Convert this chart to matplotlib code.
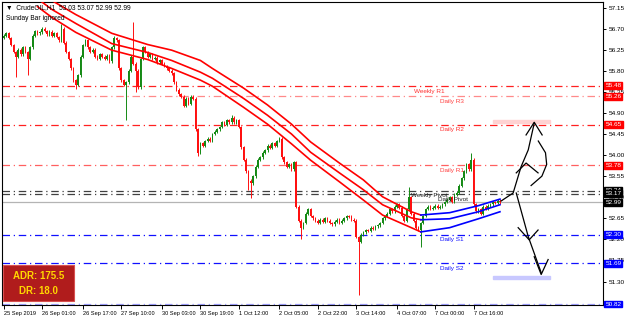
import matplotlib
matplotlib.use("Agg")
import matplotlib.pyplot as plt
from matplotlib.patches import Rectangle
import numpy as np

plt.rcParams['font.family'] = ['Liberation Sans', 'DejaVu Sans']

# === H1 bars (close of every bar) ===
first_open = 56.50
closes = [
    56.55, 56.60, 56.50, 56.35, 56.20, 56.10, 56.25, 56.15, 56.30, 56.20,
    56.05, 56.30, 56.55, 56.65, 56.60,
    56.62, 56.70, 56.65, 56.58, 56.63, 56.55, 56.60, 56.52,
    56.45, 56.70, 56.40, 56.20, 56.05,
    55.85, 55.60, 55.50, 55.70, 56.10,
    56.35, 56.45, 56.30, 56.20, 56.25, 56.10, 56.05, 56.15,
    56.10, 56.05, 56.12, 56.00, 56.30, 56.50, 56.45,
    55.85,
    55.60, 55.50, 55.55,
    55.80, 56.10,
    55.95,
    55.80, 55.45,
    56.05, 56.30, 56.20,
    56.10, 56.15, 56.05, 56.08, 55.98, 56.02, 55.95,
    55.90, 55.85, 55.80, 55.75,
    55.55, 55.40, 55.30, 55.25,
    55.05, 55.20, 55.10, 55.25, 55.20,
    54.55, 54.05,
    54.25, 54.20, 54.30, 54.35, 54.30, 54.45, 54.50,
    54.55, 54.60, 54.70, 54.65, 54.75, 54.70, 54.80, 54.70,
    54.75, 54.60,
    54.17,
    53.90, 53.65, 53.45,
    53.40,
    53.55, 53.75, 53.90, 53.95,
    54.05, 54.10, 54.20, 54.15, 54.25, 54.20, 54.30, 54.35,
    53.95, 53.85,
    53.75, 53.80, 53.70, 53.85,
    52.90, 52.60, 52.45,
    52.55, 52.75, 52.85, 52.70,
    52.65, 52.60, 52.55, 52.62, 52.58, 52.65, 52.60, 52.55, 52.52,
    52.58, 52.62, 52.55, 52.60, 52.65, 52.70, 52.68, 52.62, 52.60,
    52.25, 52.15,
    52.30, 52.35, 52.40, 52.38, 52.45, 52.42, 52.48, 52.50, 52.55,
    52.65, 52.70, 52.75, 52.85, 52.80, 52.90, 52.95, 52.88,
    52.70, 52.60, 52.85, 53.10, 52.75,
    52.60, 52.45, 52.40, 52.55,
    52.70, 52.85, 52.90, 52.85, 52.88, 52.92, 52.87, 52.90,
    52.95, 53.00, 53.05, 53.10, 53.00, 53.15, 53.20,
    53.35, 53.50, 53.65, 53.80, 53.70, 53.90,
    52.95,
    52.80, 52.85, 52.75, 52.90, 52.85, 52.92,
    52.95, 53.00, 52.98, 53.03, 52.99,
]
# long wicks seen on the chart (bar index -> price)
wick_highs = {24: 56.80, 46: 56.55, 54: 56.85, 95: 54.85, 115: 54.38,
              169: 53.32, 195: 54.05, 207: 53.07}
wick_lows = {5: 55.67, 10: 55.70, 30: 55.42, 51: 54.75, 55: 55.34, 81: 53.98,
             102: 53.26, 103: 53.09, 124: 52.20, 148: 51.02, 174: 52.04}

# === channel lines (red while falling, blue while rising) ===
red_idx = [14, 20, 30, 45, 60, 70, 82, 87, 100, 110, 120, 128, 140, 150, 158, 170, 174]
red_up = [57.55, 57.30, 57.00, 56.60, 56.36, 56.24, 56.02, 55.85, 55.43, 55.07,
          54.66, 54.28, 53.83, 53.47, 53.11, 52.79, 52.72]
red_mid = [57.34, 57.11, 56.81, 56.38, 56.19, 56.02, 55.77, 55.64, 55.21, 54.85,
           54.45, 54.06, 53.62, 53.26, 52.94, 52.66, 52.62]
red_low = [57.17, 56.94, 56.62, 56.24, 56.04, 55.85, 55.60, 55.47, 55.02, 54.66,
           54.24, 53.89, 53.43, 53.04, 52.72, 52.45, 52.36]
blue_idx = [174, 186, 198, 207]
blue_up = [52.72, 52.77, 52.92, 53.06]
blue_mid = [52.62, 52.64, 52.79, 52.94]
blue_low = [52.36, 52.45, 52.64, 52.79]

# === pivot levels ===
level_names = ["Weekly R1", "Daily R3", "Daily R2", "Daily R1", "Weekly Pivot",
               "Daily Pivot", "Daily S1", "Daily S2", ""]
level_values = [55.48, 55.26, 54.65, 53.78, 53.24, 53.17, 52.30, 51.69, 50.82]
level_colors = ["#ff2020", "#ff8a8a", "#ff2020", "#ff6060", "#404040",
                "#404040", "#1010ff", "#1010ff", "#a0a0ff"]
text_colors = ["#ff3030", "#ff4040", "#ff3030", "#ff4040", "#202020",
               "#202020", "#1010ff", "#1010ff", "#1010ff"]
level_boxes = ["#ff0000", "#ff0000", "#ff0000", "#ff0000", "#000000",
               "#000000", "#0000ff", "#0000ff", "#0000ff"]
label_pos = [171, 182, 182, 182, 170, 181, 182, 182, 0]
last_price = 52.99

ytick_vals = [57.15, 56.70, 56.25, 55.80, 55.35, 54.90, 54.45, 54.00, 53.55,
              53.10, 52.65, 52.20, 51.75, 51.30]
xtick_pos = [0, 16, 33, 49, 66, 82, 98, 115, 131, 147, 164, 180, 196]
xtick_labels = ["25 Sep 2019", "26 Sep 01:00", "26 Sep 17:00", "27 Sep 10:00",
                "30 Sep 03:00", "30 Sep 19:00", "1 Oct 12:00", "2 Oct 05:00",
                "2 Oct 22:00", "3 Oct 14:00", "4 Oct 07:00", "7 Oct 00:00",
                "7 Oct 16:00"]

# hand drawn arrows (bar index, price)
up_stroke = ([207.5, 212.5, 215.8, 218.8, 221.3], [53.02, 53.19, 53.75, 54.11, 54.68])
up_head = ([217.9, 221.3, 224.6], [54.43, 54.70, 54.43])
mid_head = ([213.8, 217.9, 222.9], [53.62, 53.83, 53.62])
down_stroke = ([213.8, 218.8, 224.2], [53.19, 52.26, 51.49])
down_head = ([221.3, 224.2, 227.1], [51.83, 51.45, 51.77])
small_v = ([214.6, 219.2, 222.9], [52.45, 52.19, 52.40])
arc = ([223.0, 226.0, 226.5, 224.5, 220.0], [54.30, 54.05, 53.80, 53.55, 53.35])

# === draw ===
fig = plt.figure(figsize=(6.25, 3.2), dpi=100)
ax = fig.add_axes([0.0032, 0.047, 0.9616, 0.947])

n = len(closes)
x = np.arange(n)
c = np.array(closes)
o = np.concatenate([[first_open], c[:-1]])
h = np.maximum(o, c) + 0.03
l = np.minimum(o, c) - 0.03
for k, v in wick_highs.items():
    h[k] = v
for k, v in wick_lows.items():
    l[k] = v
up = c >= o
col = np.where(up, "#158a15", "#ff1010")
ax.vlines(x, l, h, colors=col, linewidth=0.7, zorder=3)
ax.bar(x, np.maximum(np.abs(c - o), 0.015), bottom=np.minimum(o, c), width=0.7,
       color=col, linewidth=0, zorder=3)

for ys in (red_up, red_mid, red_low):
    ax.plot(red_idx, ys, color="#ff0000", lw=1.2, zorder=4)
for ys in (blue_up, blue_mid, blue_low):
    ax.plot(blue_idx, ys, color="#0000ff", lw=1.2, zorder=4)

for name, val, lc, tc, bc, px in zip(level_names, level_values, level_colors,
                                     text_colors, level_boxes, label_pos):
    ax.axhline(val, color=lc, lw=0.9, ls=(0, (6, 3, 1, 3)), zorder=2)
    if name:
        ax.annotate(name, (px, val), xytext=(0, -3.8), textcoords="offset points",
                    fontsize=4.6, color=tc, va="center", ha="left", zorder=5)
    ax.text(1.004, val, f"{val:.2f}", transform=ax.get_yaxis_transform(),
            fontsize=4.6, color="white", va="center", ha="left", clip_on=False,
            zorder=6, bbox=dict(boxstyle="square,pad=0.15", fc=bc, ec=bc))

ax.axhline(last_price, color="#b4b4b4", lw=0.9, zorder=2)
ax.text(1.004, last_price, f"{last_price:.2f}", transform=ax.get_yaxis_transform(),
        fontsize=4.6, color="white", va="center", ha="left", clip_on=False,
        zorder=7, bbox=dict(boxstyle="square,pad=0.15", fc="black", ec="black"))

ax.add_patch(Rectangle((204, 54.68), 24, 0.06, color="#ffd2d2", zorder=1))
ax.add_patch(Rectangle((204, 51.35), 24, 0.07, color="#c8c8ff", zorder=1))

for xs, ys in (up_stroke, up_head, mid_head, down_stroke, down_head, small_v, arc):
    ax.plot(xs, ys, color="black", lw=0.9, zorder=5)

# ADR panel
ax.add_patch(Rectangle((0.002, 0.013), 0.118, 0.118, transform=ax.transAxes,
                       fc="#b01c1c", ec="#d85050", lw=0.8, zorder=6))
ax.text(0.061, 0.095, "ADR: 175.5", transform=ax.transAxes, fontsize=7,
        fontweight="bold", color="#ffd700", ha="center", va="center", zorder=7)
ax.text(0.061, 0.047, "DR: 18.0", transform=ax.transAxes, fontsize=7,
        fontweight="bold", color="#ffd700", ha="center", va="center", zorder=7)

ax.text(0.006, 0.982, "\u25BC  CrudeOIL,H1  53.03 53.07 52.99 52.99",
        transform=ax.transAxes, fontsize=4.8, va="center", ha="left", zorder=7)
ax.text(0.006, 0.945, "Sunday Bar ignored", transform=ax.transAxes,
        fontsize=4.8, va="center", ha="left", zorder=7)

ax.set_xlim(-0.8, 250)
ax.set_ylim(50.80, 57.27)
ax.yaxis.tick_right()
ax.set_yticks(ytick_vals)
ax.set_yticklabels([f"{v:.2f}" for v in ytick_vals], fontsize=4.6)
ax.set_xticks(xtick_pos)
ax.set_xticklabels(xtick_labels, fontsize=4.1, ha="left")
ax.tick_params(axis="y", length=2, width=0.7, pad=2)
ax.tick_params(axis="x", length=3, width=0.7, pad=1.5)
for s in ax.spines.values():
    s.set_linewidth(0.8)

fig.savefig("out.png", dpi=100)
